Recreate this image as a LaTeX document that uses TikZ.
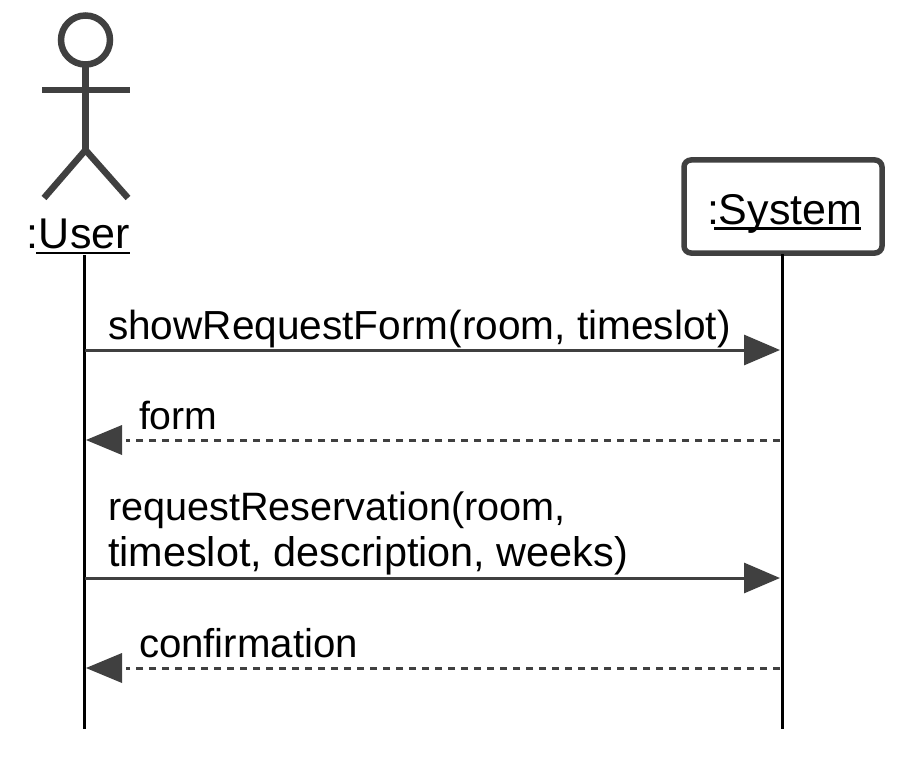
\documentclass[tikz,border=0pt]{standalone}
\usepackage{fontspec}
\setmainfont{Liberation Sans}
\usetikzlibrary{arrows.meta}
\definecolor{umlgray}{HTML}{404040}
\tikzset{
  x=1pt,y=-1pt,
  figure/.style={draw=umlgray,line width=6.5pt,line cap=butt},
  lifeline/.style={draw=black,line width=3pt},
  ulinerule/.style={draw=black,line width=2.8pt},
  txt/.style={font=\fontsize{40.6}{46}\selectfont,anchor=base west,inner sep=0pt,outer sep=0pt,text=black},
  objtxt/.style={txt,font=\fontsize{43}{46}\selectfont},
  msg/.style={draw=umlgray,line width=3pt,-{Triangle[length=36pt,width=30pt,color=umlgray]}},
  ret/.style={draw=umlgray,line width=3pt,dash pattern=on 7pt off 6pt},
  rethead/.style={fill=umlgray,draw=none},
}
\begin{document}
\begin{tikzpicture}
\useasboundingbox (0,0) rectangle (917,762);
% actor
\node[circle,draw=umlgray,line width=6.5pt,minimum size=49pt,inner sep=0pt,outer sep=0pt] (head) at (85.5,40) {};
\coordinate (hip) at (85.5,150);
\coordinate (armL) at (42,90);
\coordinate (armR) at (130,90);
\coordinate (legL) at (44,198);
\coordinate (legR) at (128,198);
\draw[figure] (head.south) -- (hip);
\draw[figure] (armL) -- (armR);
\draw[figure,line join=miter] (legL) -- (hip) -- (legR);
\node[objtxt] (user) at (27,248) {:User};
\coordinate (uulA) at (36,253);
\coordinate (uulB) at (130,253);
\draw[ulinerule] (uulA) -- (uulB);
% system
\node[draw=umlgray,line width=5.5pt,rounded corners=7pt,minimum width=198pt,minimum height=93pt,inner sep=0pt,fill=white] (sys) at (783,206.5) {};
\node[objtxt] (systxt) at (707,224) {:System};
\coordinate (sulA) at (714,228.5);
\coordinate (sulB) at (861,228.5);
\draw[ulinerule] (sulA) -- (sulB);
% lifelines
\coordinate (uTop) at (84.5,255);
\coordinate (uEnd) at (84.5,729);
\coordinate (sEnd) at (782,729);
\coordinate (sTop) at (782,254);
\draw[lifeline] (uTop) -- (uEnd);
\draw[lifeline] (sTop) -- (sEnd);
% messages
\coordinate (m1a) at (85,350); \coordinate (m1b) at (780,350);
\coordinate (m2a) at (780,440); \coordinate (m2b) at (126,440);
\coordinate (m3a) at (85,578); \coordinate (m3b) at (780,578);
\coordinate (m4a) at (780,668); \coordinate (m4b) at (126,668);
\draw[msg] (m1a) -- (m1b);
\draw[msg] (m3a) -- (m3b);
\draw[ret] (m2a) -- (m2b);
\draw[ret] (m4a) -- (m4b);
\fill[rethead] (86,440) -- (122,425) -- (122,455) -- cycle;
\fill[rethead] (86,668) -- (122,653) -- (122,683) -- cycle;
% labels
\node[txt] (l1) at (108,339) {showRequestForm(room, timeslot)};
\node[txt,font=\fontsize{39.2}{46}\selectfont] (l2) at (139,429.5) {form};
\node[txt,font=\fontsize{39.6}{46}\selectfont] (l3a) at (108,520.5) {requestReservation(room,};
\node[txt,font=\fontsize{41.4}{46}\selectfont] (l3b) at (108,566.5) {timeslot, description, weeks)};
\node[txt,font=\fontsize{40.2}{46}\selectfont] (l4) at (139,657.5) {confirmation};
\end{tikzpicture}
\end{document}
